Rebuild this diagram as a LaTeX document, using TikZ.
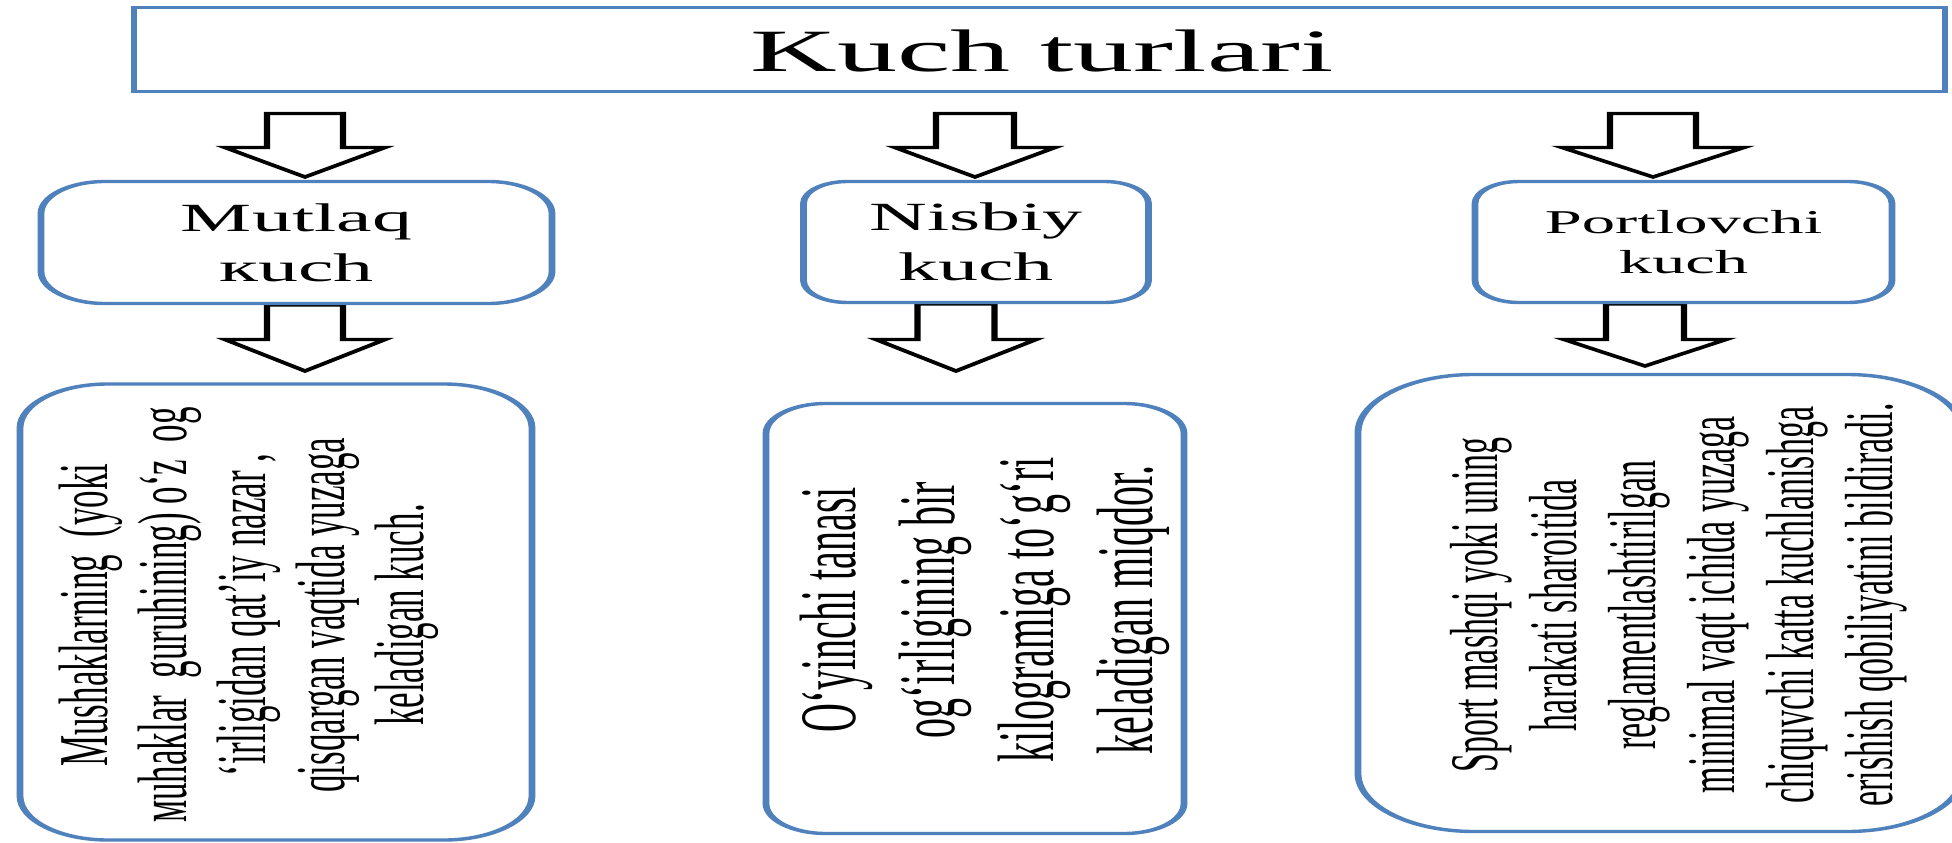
\documentclass[tikz,border=0pt]{standalone}
\usepackage{fontspec}
\setmainfont{Liberation Serif}
\definecolor{boxblue}{RGB}{79,129,189}
\tikzset{
  boxline/.style={draw=boxblue, line width=3.4pt, fill=white, inner sep=0pt, align=center, text=black},
  topbox/.style={boxline, rectangle},
  headbox/.style={boxline, rounded corners=#1},
  descbox/.style={boxline, rounded corners=#1},
  arrowshape/.style={draw=black, fill=white, line width=3.2pt, line join=miter},
  vtext/.style={rotate=90, align=center, inner sep=0pt, text=black},
}
% cx, ytop, yshoulder, ytip, stem half width, head half width
\newcommand\blockarrow[6]{%
  \draw[arrowshape] ({#1-#5},#2) -- ({#1+#5},#2) -- ({#1+#5},#3) -- ({#1+#6},#3)
    -- (#1,#4) -- ({#1-#6},#3) -- ({#1-#5},#3) -- cycle;}
\begin{document}
\begin{tikzpicture}[x=1pt,y=-1pt]
\useasboundingbox (0,0) rectangle (1952,843);
\fill[white] (0,0) rectangle (1952,843);
\begin{scope}[transform canvas={xscale=2}]
  % block arrows
  \blockarrow{152.5}{113.5}{147.5}{177}{19}{40}
  \blockarrow{152.5}{305}{339.5}{371}{19}{40}
  \blockarrow{487.5}{113.5}{147.5}{177}{19.5}{40}
  \blockarrow{478}{304}{339.5}{371}{19.25}{40}
  \blockarrow{826.5}{113.5}{147.5}{177}{21.5}{45.5}
  \blockarrow{822.5}{304}{339.5}{366}{19.5}{40.5}
  % title
  \node[topbox, minimum width=905.5pt, minimum height=84pt] (top) at (519.75,49.5) {};
  \node[anchor=base, inner sep=0pt, font=\fontsize{60}{72}\selectfont] (title) at (521,72) {Kuch turlari};
  % second row
  \node[headbox=32pt, minimum width=255.5pt, minimum height=122pt,
        font=\fontsize{40}{50}\selectfont] (mut) at (148.25,242.5) {Mutlaq\\кuch};
  \node[headbox=22pt, minimum width=172.5pt, minimum height=121pt,
        font=\fontsize{40}{50}\selectfont] (nis) at (488,242) {Nisbiy\\kuch};
  \node[headbox=22pt, minimum width=208.5pt, minimum height=121pt,
        font=\fontsize{33.3}{40}\selectfont] (por) at (841.75,242) {Portlovchi\\kuch};
  % description boxes
  \node[descbox=44pt, minimum width=256pt, minimum height=456pt] (d1) at (138,612) {};
  \node[vtext, font=\fontsize{35}{39.5}\selectfont] (t1) at (124.3,615)
    {Mushaklarning\ \ (yoki\\мuhaklar\ \ guruhining) o‘z\ \ og\\‘irligidan qat’iy nazar ,\\qisqargan vaqtida yuzaga\\keladigan kuch.};
  \node[descbox=30pt, minimum width=209pt, minimum height=430pt] (d2) at (487.5,618.5) {};
  \node[vtext, font=\fontsize{40}{49.5}\selectfont] (t2) at (492.5,610)
    {O‘yinchi tanasi\\og‘irligining bir\\kilogramiga to‘g‘ri\\keladigan miqdor.};
  \node[descbox=58pt, minimum width=302.5pt, minimum height=457pt] (d3) at (830.25,603) {};
  \node[vtext, font=\fontsize{34}{39.5}\selectfont] (t3) at (839.5,605)
    {Sport mashqi yoki uning\\harakati sharoitida\\reglamentlashtirilgan\\minimal vaqt ichida yuzaga\\chiquvchi katta kuchlanishga\\erishish qobiliyatini bildiradi.};
\end{scope}
\end{tikzpicture}
\end{document}
